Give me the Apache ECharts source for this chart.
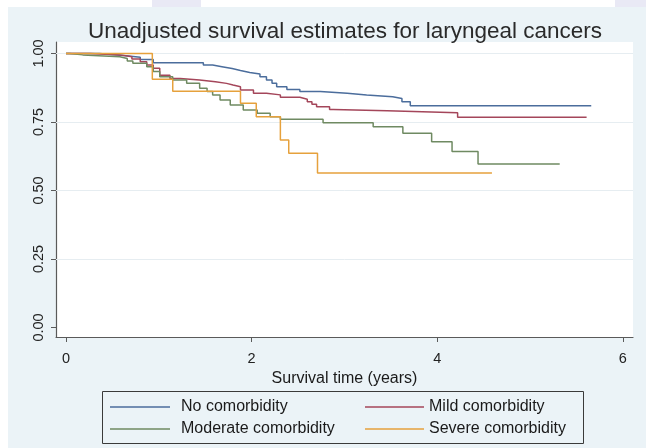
<!DOCTYPE html>
<html>
<head>
<meta charset="utf-8">
<script src="https://cdn.jsdelivr.net/npm/echarts@6/dist/echarts.min.js"></script>
<style>
  html, body { margin: 0; padding: 0; background: #ebf3f7; }
  #chart { width: 646px; height: 448px; }
</style>
</head>
<body>
<div id="chart"></div>
<script>
// Kaplan-Meier step estimates by comorbidity group (time in years, survival proportion)
const noTime   = [0, 0.36, 0.62, 0.80, 0.94, 1.48, 1.58, 1.68, 1.79, 1.88, 1.98, 2.09, 2.16, 2.22, 2.27, 2.38, 2.52, 2.74, 3.03, 3.24, 3.52, 3.62, 3.71, 5.66];
const noSurv   = [1, 0.993, 0.986, 0.978, 0.966, 0.958, 0.952, 0.945, 0.938, 0.931, 0.925, 0.915, 0.903, 0.891, 0.879, 0.869, 0.861, 0.855, 0.849, 0.842, 0.836, 0.824, 0.809, 0.809];

const mildTime = [0, 0.26, 0.58, 0.71, 0.80, 0.87, 0.94, 1.01, 1.12, 1.23, 1.44, 1.61, 1.73, 1.80, 1.88, 2.02, 2.16, 2.31, 2.52, 2.60, 2.65, 2.70, 2.84, 2.88, 3.46, 4.22, 5.61];
const mildSurv = [1, 0.995, 0.988, 0.980, 0.970, 0.958, 0.946, 0.921, 0.909, 0.903, 0.897, 0.891, 0.885, 0.879, 0.867, 0.855, 0.849, 0.840, 0.833, 0.824, 0.815, 0.806, 0.796, 0.791, 0.784, 0.767, 0.767];

const modTime  = [0, 0.04, 0.18, 0.58, 0.66, 0.72, 0.87, 0.94, 1.01, 1.15, 1.30, 1.44, 1.52, 1.58, 1.66, 1.77, 1.91, 2.06, 2.20, 2.31, 2.77, 3.31, 3.63, 3.94, 4.16, 4.44, 5.32];
const modSurv  = [1, 0.995, 0.988, 0.982, 0.973, 0.964, 0.952, 0.934, 0.915, 0.903, 0.891, 0.873, 0.861, 0.849, 0.830, 0.812, 0.794, 0.782, 0.769, 0.760, 0.747, 0.733, 0.709, 0.678, 0.642, 0.597, 0.597];

const sevTime  = [0, 0.93, 1.15, 1.88, 2.05, 2.31, 2.40, 2.71, 4.59];
const sevSurv  = [1, 0.906, 0.862, 0.818, 0.769, 0.684, 0.636, 0.564, 0.564];

const groupNames = ['No comorbidity', 'Mild comorbidity', 'Moderate comorbidity', 'Severe comorbidity'];
const xTicks = [0, 2, 4, 6];
const yTicks = [0, 0.25, 0.5, 0.75, 1];
const gridValues = [0.25, 0.5, 0.75, 1];

const colors = ['#4b6d9c', '#a4465a', '#6f8a62', '#e6a13c'];
const font = '"Liberation Sans", Arial, sans-serif';

function pairs(t, s) { return t.map((v, i) => [v, s[i]]); }
const curves = [pairs(noTime, noSurv), pairs(mildTime, mildSurv), pairs(modTime, modSurv), pairs(sevTime, sevSurv)];

const series = curves.map((data, i) => ({
  name: groupNames[i],
  type: 'line',
  step: 'end',
  data: data,
  showSymbol: false,
  symbol: 'none',
  lineStyle: { color: colors[i], width: 1.5 },
  itemStyle: { color: colors[i] },
  z: 3 + i,
  silent: true,
  animation: false
}));

// faint horizontal reference lines
series[0].markLine = {
  silent: true,
  symbol: ['none', 'none'],
  label: { show: false },
  lineStyle: { color: '#e6edf1', width: 1, type: 'solid' },
  data: gridValues.map(v => ({ yAxis: v })),
  z: 1
};

// legend entries placed as a 2x2 block
const legendPos = [
  { left: 110, top: 399, pad: 6 },
  { left: 365, top: 399, pad: 0 },
  { left: 110, top: 421, pad: 6 },
  { left: 365, top: 421, pad: 0 }
];
const legends = groupNames.map((n, i) => ({
  data: [n],
  left: legendPos[i].left,
  top: legendPos[i].top,
  icon: 'rect',
  itemWidth: i % 2 === 0 ? 60 : 59,
  itemHeight: 1.6,
  padding: 0,
  selectedMode: false,
  textStyle: { fontFamily: font, fontSize: 16, color: '#1a1a1a', padding: [0, 0, 0, legendPos[i].pad] }
}));

const chart = echarts.init(document.getElementById('chart'), null, { renderer: 'canvas' });
chart.setOption({
  backgroundColor: '#ebf3f7',
  animation: false,
  title: {
    text: 'Unadjusted survival estimates for laryngeal cancers',
    left: 340,
    textAlign: 'center',
    top: 15,
    textStyle: { fontFamily: font, fontSize: 22.5, fontWeight: 'normal', color: '#2a2a2a' }
  },
  legend: legends,
  grid: {
    left: 56, right: 13, top: 42, bottom: 111,
    show: true, backgroundColor: '#ffffff', borderWidth: 0
  },
  xAxis: {
    type: 'value',
    min: -0.108, max: 6.11,
    name: 'Survival time (years)',
    nameLocation: 'middle',
    nameGap: 30,
    nameTextStyle: { fontFamily: font, fontSize: 16, color: '#1a1a1a' },
    axisLine: { show: true, onZero: false, lineStyle: { color: '#5a5a5a', width: 1.2 } },
    axisTick: { show: true, customValues: xTicks, length: 5, lineStyle: { color: '#5a5a5a' } },
    axisLabel: { customValues: xTicks, margin: 14, fontFamily: font, fontSize: 14.5, color: '#222', formatter: v => String(v) },
    splitLine: { show: false }
  },
  yAxis: {
    type: 'value',
    min: -0.0347, max: 1.042,
    axisLine: { show: true, onZero: false, lineStyle: { color: '#5a5a5a', width: 1.2 } },
    axisTick: { show: true, customValues: yTicks, length: 5, lineStyle: { color: '#5a5a5a' } },
    axisLabel: { customValues: yTicks, rotate: 90, margin: 10, fontFamily: font, fontSize: 14.5, color: '#222', formatter: v => v.toFixed(2) },
    splitLine: { show: false }
  },
  graphic: [
    { type: 'rect', shape: { x: 0, y: 0, width: 646, height: 7 }, style: { fill: '#ffffff' }, silent: true, z: -10 },
    { type: 'rect', shape: { x: 0, y: 0, width: 8, height: 448 }, style: { fill: '#ffffff' }, silent: true, z: -10 },
    { type: 'rect', shape: { x: 152, y: 0, width: 49, height: 7 }, style: { fill: '#e9e9f5' }, silent: true, z: -9 },
    { type: 'rect', shape: { x: 615, y: 0, width: 31, height: 7 }, style: { fill: '#e9e9f5' }, silent: true, z: -9 },
    { type: 'rect', shape: { x: 102.5, y: 391.5, width: 481, height: 52 }, style: { fill: 'none', stroke: '#3a3a3a', lineWidth: 1 }, silent: true }
  ],
  series: series
});
</script>
</body>
</html>
